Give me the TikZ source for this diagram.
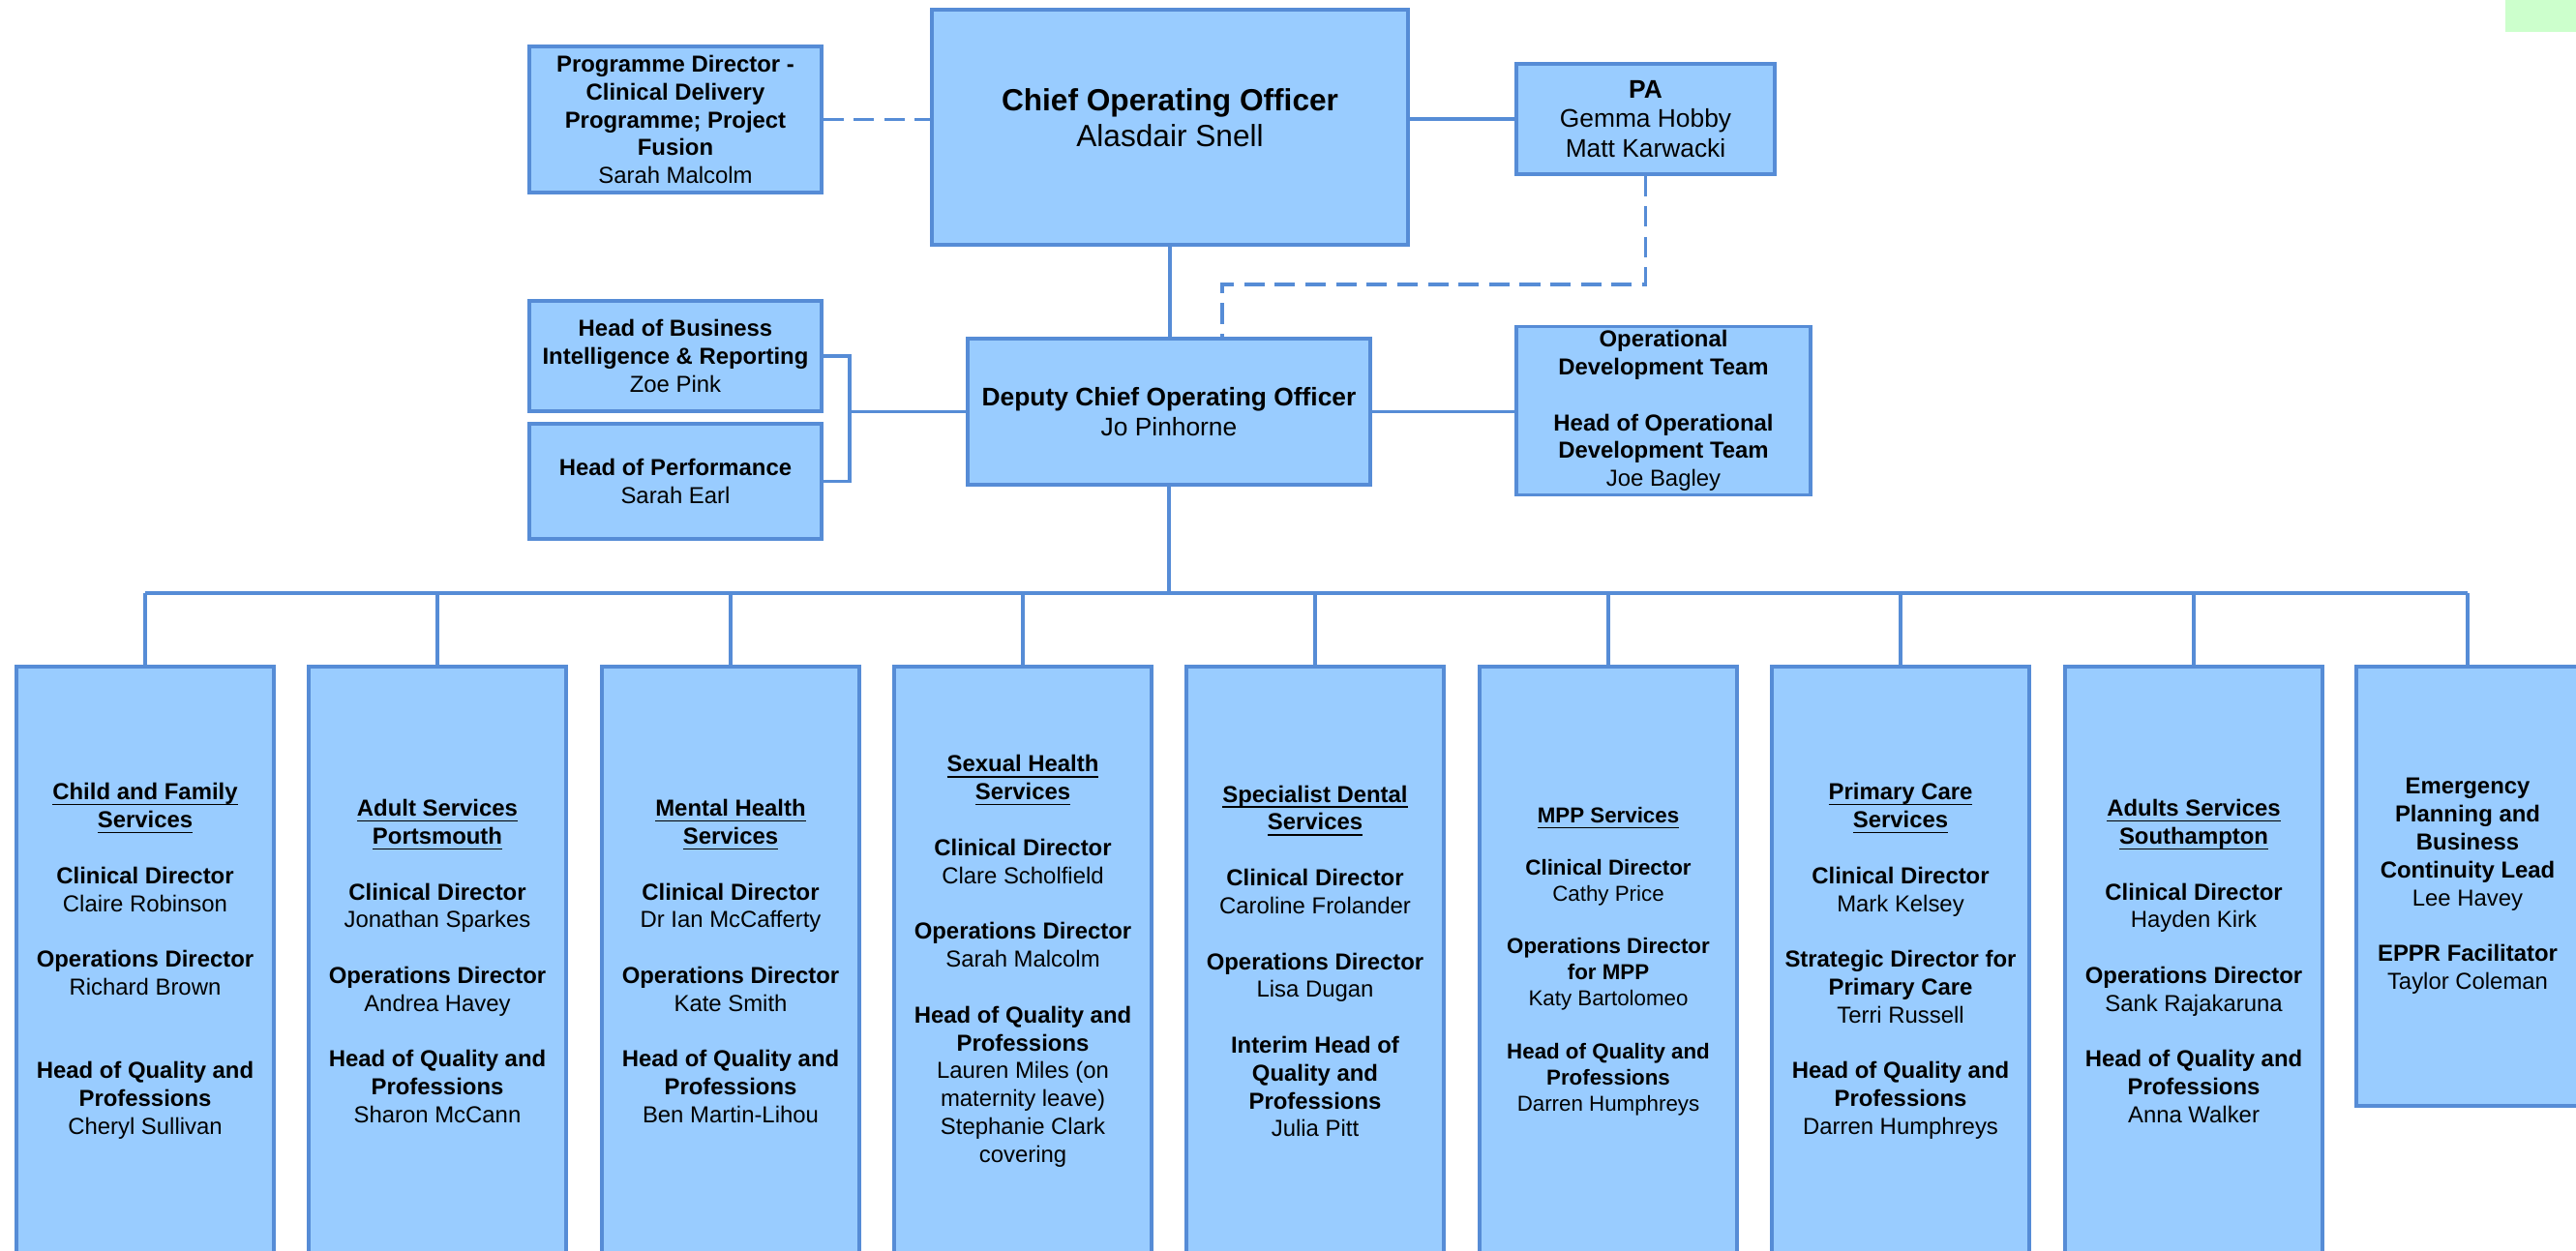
\documentclass[tikz,border=0pt]{standalone}
\usepackage{fontspec}
\setmainfont{Liberation Sans}
\definecolor{boxblue}{RGB}{153,204,255}
\definecolor{lineblue}{RGB}{86,140,214}
\definecolor{tabgreen}{RGB}{204,255,204}
\tikzset{
  unit/.style={draw=lineblue,fill=boxblue,line width=0.9pt,align=center,inner sep=1pt,
    font=\fontsize{6.8}{8.2}\selectfont},
  service/.style={unit,minimum width=2.66cm,minimum height=6.05cm},
  link/.style={draw=lineblue,line width=0.9pt},
  dashlink/.style={link,dash pattern=on 6pt off 3pt},
}
\newcommand{\hd}[1]{\textbf{\underline{\raisebox{0pt}[\height][0pt]{#1}}}}

\begin{document}
\begin{tikzpicture}
    \useasboundingbox (0,0) rectangle (26.62,12.92);
    \fill[tabgreen] (25.89,12.59) rectangle (26.62,12.92);
    %% top level
    \node (prog) at (6.98,11.685) [unit,minimum width=3.02cm,minimum height=1.51cm]
      {\textbf{Programme Director -}\\\textbf{Clinical Delivery}\\\textbf{Programme; Project}\\\textbf{Fusion}\\Sarah Malcolm};
    \node (coo) at (12.09,11.605) [unit,minimum width=4.92cm,minimum height=2.43cm,text depth=5.8pt,font=\fontsize{9}{10.6}\selectfont]
      {\textbf{Chief Operating Officer}\\Alasdair Snell};
    \node (pa) at (17.005,11.69) [unit,minimum width=2.67cm,minimum height=1.14cm,font=\fontsize{7.5}{8.6}\selectfont]
      {\textbf{PA}\\Gemma Hobby\\Matt Karwacki};
    %% second level
    \node (bi) at (6.98,9.24) [unit,minimum width=3.02cm,minimum height=1.14cm]
      {\textbf{Head of Business}\\\textbf{Intelligence \& Reporting}\\Zoe Pink};
    \node (perf) at (6.98,7.945) [unit,minimum width=3.02cm,minimum height=1.19cm]
      {\textbf{Head of Performance}\\Sarah Earl};
    \node (dep) at (12.08,8.665) [unit,minimum width=4.16cm,minimum height=1.51cm,font=\fontsize{7.5}{8.7}\selectfont]
      {\textbf{Deputy Chief Operating Officer}\\Jo Pinhorne};
    \node (opdev) at (17.19,8.675) [unit,minimum width=3.04cm,minimum height=1.73cm]
      {\textbf{Operational}\\\textbf{Development Team}\\[8.2pt]\textbf{Head of Operational}\\\textbf{Development Team}\\Joe Bagley};
    %% services
    \node (cf) at (1.50,2.985) [service,minimum height=6.09cm]
      {\hd{Child and Family}\\\hd{Services}\\[8.2pt]\textbf{Clinical Director}\\Claire Robinson\\[8.2pt]\textbf{Operations Director}\\Richard Brown\\[16.4pt]\textbf{Head of Quality and}\\\textbf{Professions}\\Cheryl Sullivan};
    \node (asp) at (4.52,2.985) [service,minimum height=6.09cm]
      {\hd{Adult Services}\\\hd{Portsmouth}\\[8.2pt]\textbf{Clinical Director}\\Jonathan Sparkes\\[8.2pt]\textbf{Operations Director}\\Andrea Havey\\[8.2pt]\textbf{Head of Quality and}\\\textbf{Professions}\\Sharon McCann};
    \node (mh) at (7.55,2.985) [service,minimum height=6.09cm]
      {\hd{Mental Health}\\\hd{Services}\\[8.2pt]\textbf{Clinical Director}\\Dr Ian McCafferty\\[8.2pt]\textbf{Operations Director}\\Kate Smith\\[8.2pt]\textbf{Head of Quality and}\\\textbf{Professions}\\Ben Martin-Lihou};
    \node (sh) at (10.57,2.985) [service,minimum height=6.09cm]
      {\hd{Sexual Health}\\\hd{Services}\\[8.2pt]\textbf{Clinical Director}\\Clare Scholfield\\[8.2pt]\textbf{Operations Director}\\Sarah Malcolm\\[8.2pt]\textbf{Head of Quality and}\\\textbf{Professions}\\Lauren Miles (on\\maternity leave)\\Stephanie Clark\\covering};
    \node (sd) at (13.59,2.985) [service,minimum height=6.09cm]
      {\hd{Specialist Dental}\\\hd{Services}\\[8.2pt]\textbf{Clinical Director}\\Caroline Frolander\\[8.2pt]\textbf{Operations Director}\\Lisa Dugan\\[8.2pt]\textbf{Interim Head of}\\\textbf{Quality and}\\\textbf{Professions}\\Julia Pitt};
    \node (mpp) at (16.62,2.985) [service,minimum height=6.09cm,font=\fontsize{6.35}{7.7}\selectfont]
      {\hd{MPP Services}\\[7.7pt]\textbf{Clinical Director}\\Cathy Price\\[7.7pt]\textbf{Operations Director}\\\textbf{for MPP}\\Katy Bartolomeo\\[7.7pt]\textbf{Head of Quality and}\\\textbf{Professions}\\Darren Humphreys};
    \node (pc) at (19.64,2.985) [service,minimum height=6.09cm]
      {\hd{Primary Care}\\\hd{Services}\\[8.2pt]\textbf{Clinical Director}\\Mark Kelsey\\[8.2pt]\textbf{Strategic Director for}\\\textbf{Primary Care}\\Terri Russell\\[8.2pt]\textbf{Head of Quality and}\\\textbf{Professions}\\Darren Humphreys};
    \node (ass) at (22.67,2.985) [service,minimum height=6.09cm]
      {\hd{Adults Services}\\\hd{Southampton}\\[8.2pt]\textbf{Clinical Director}\\Hayden Kirk\\[8.2pt]\textbf{Operations Director}\\Sank Rajakaruna\\[8.2pt]\textbf{Head of Quality and}\\\textbf{Professions}\\Anna Walker};
    \node (ep) at (25.50,3.76) [unit,minimum width=2.30cm,minimum height=4.54cm]
      {\textbf{Emergency}\\\textbf{Planning and}\\\textbf{Business}\\\textbf{Continuity Lead}\\Lee Havey\\[8.2pt]\textbf{EPPR Facilitator}\\Taylor Coleman};
    %% connectors
    \coordinate (pabend) at (12.63,9.98);
    \coordinate (bracket) at (8.78,8.665);
    \coordinate (bus) at (12.08,6.79);
    \draw[dashlink] (prog.east) -- (prog.east -| coo.west);
    \draw[link] (coo.east |- pa.west) -- (pa.west);
    \draw[link] (coo.south) -- (coo.south |- dep.north);
    \draw[dashlink] (pa.south) |- (pabend) -- (pabend |- dep.north);
    \draw[link] (bi.east) -| (bracket |- perf.east) -- (perf.east);
    \draw[link] (bracket) -- (dep.west);
    \draw[link] (dep.east) -- (dep.east -| opdev.west);
    \draw[link] (dep.south) -- (bus);
    \draw[link] (cf.north |- bus) -- (ep.north |- bus);
    \foreach \s in {cf,asp,mh,sh,sd,mpp,pc,ass,ep}
      \draw[link] (\s.north |- bus) -- (\s.north);
\end{tikzpicture}
\end{document}
